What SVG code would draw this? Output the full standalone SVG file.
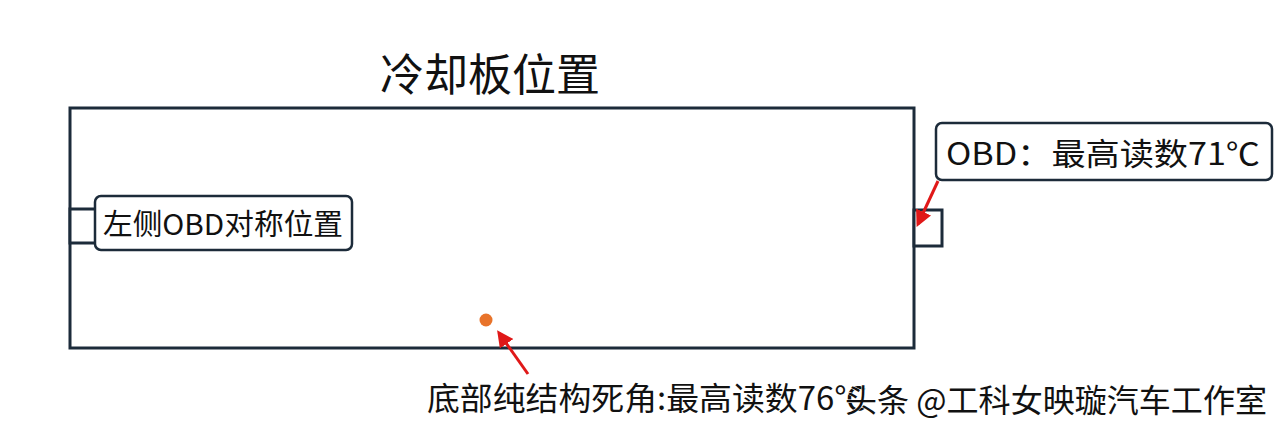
<svg xmlns="http://www.w3.org/2000/svg" width="1280" height="430" viewBox="0 0 1280 430">
<defs>
<style>
.box{fill:#fff;stroke:#1c2b3a;stroke-width:3}
.lbl{fill:#fff;stroke:#1c2b3a;stroke-width:2.5}
.t{font-family:"Noto Sans CJK SC","Noto Sans",sans-serif;fill:#111}
.arr{stroke:#e01818;stroke-width:3;fill:none}
</style>
<marker id="ah" viewBox="0 0 10 10" refX="8" refY="5" markerWidth="5.5" markerHeight="5.5" orient="auto">
<path d="M0,0 L10,5 L0,10 z" fill="#e01818"/>
</marker>
</defs>
<rect width="1280" height="430" fill="#fff"/>
<g id="title"><text class="t" x="380" y="91" font-size="44" textLength="220" lengthAdjust="spacingAndGlyphs">冷却板位置</text></g>
<g id="plate"><rect class="box" x="70" y="108" width="844" height="240"/></g>
<g id="left-tab"><rect class="box" x="70" y="209" width="26" height="34"/></g>
<g id="right-tab"><rect class="box" x="914" y="210" width="28" height="36"/></g>
<g id="left-label">
<rect class="lbl" x="95" y="196" width="257" height="54" rx="6"/>
<text class="t" x="103" y="235" font-size="29" textLength="240" lengthAdjust="spacingAndGlyphs">左侧OBD对称位置</text>
</g>
<g id="right-label">
<rect class="lbl" x="936" y="123" width="336" height="57" rx="6"/>
<text class="t" x="946" y="165" font-size="31" textLength="314" lengthAdjust="spacingAndGlyphs">OBD：最高读数71℃</text>
</g>
<g id="dot"><circle cx="486" cy="320" r="6.5" fill="#e8732a"/></g>
<g id="connectors">
<line class="arr" x1="938" y1="181" x2="918" y2="224" marker-end="url(#ah)"/>
<line class="arr" x1="528" y1="374" x2="499" y2="333" marker-end="url(#ah)"/>
</g>
<g id="bottom-label">
<text class="t" x="427" y="410" font-size="32" textLength="440" lengthAdjust="spacingAndGlyphs">底部纯结构死角:最高读数76℃</text>
<text class="t" x="845" y="412" font-size="32" textLength="422" lengthAdjust="spacingAndGlyphs" stroke="#fff" stroke-width="1" paint-order="stroke">头条 @工科女映璇汽车工作室</text>
</g>
</svg>
